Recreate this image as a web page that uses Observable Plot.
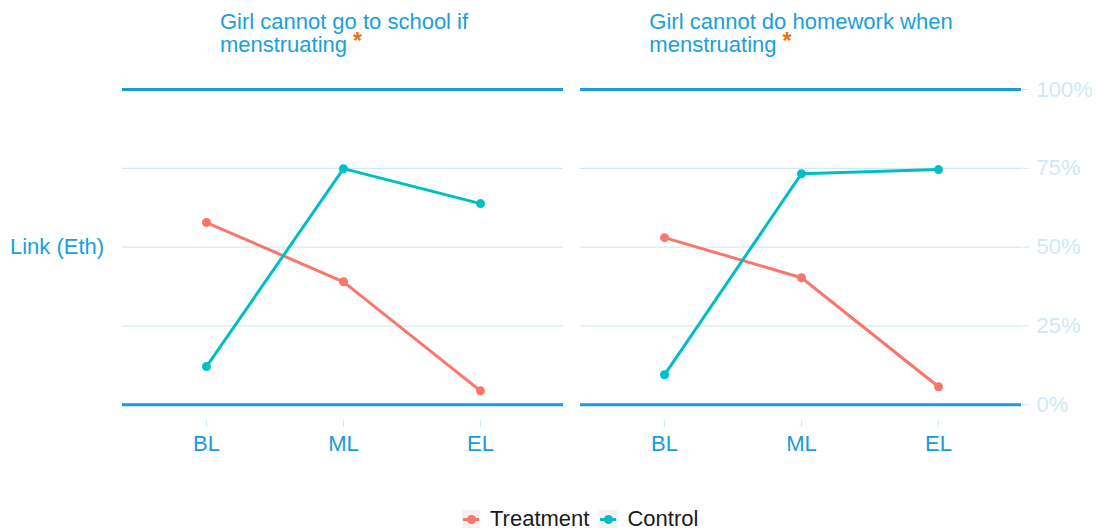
<!DOCTYPE html>
<html>
<head>
<meta charset="utf-8">
<script src="https://cdn.jsdelivr.net/npm/d3@7"></script>
<script src="https://cdn.jsdelivr.net/npm/@observablehq/plot@0.6"></script>
<style>
  html, body { margin: 0; padding: 0; background: #fff; }
  body { font-family: "Liberation Sans", Arial, sans-serif; }
  #wrap { position: relative; width: 1098px; height: 530px; }
  .ftitle { position: absolute; top: 10px; width: 500px; text-align: center; }
  .ftitle span.inner { display: inline-block; text-align: left; font-size: 22px; line-height: 23px; color: #1a9fdb; }
  .ast { display: inline-block; color: #e8720c; font-weight: bold; font-size: 23px; line-height: 12px; height: 12px; vertical-align: 3px; margin-left: 6px; }
  #ylab { position: absolute; left: 10px; top: 234px; font-size: 22px; color: #1a9fdb; }
  #legend { position: absolute; top: 506px; left: 462px; display: flex; align-items: center; font-size: 22px; color: #1a1a1a; }
  .sw { width: 18px; height: 18px; background: #f2f2f2; position: relative; margin-right: 10px; }
  .sw .ln { position: absolute; left: 1px; right: 1px; top: 8px; height: 3px; }
  .sw .dt { position: absolute; left: 4.5px; top: 4.5px; width: 9px; height: 9px; border-radius: 50%; }
  .item { display: flex; align-items: center; margin-right: 10px; }
</style>
</head>
<body>
<div id="wrap">
  <div id="chart"></div>
  <div class="ftitle" style="left:94px"><span class="inner">Girl cannot go to school if<br>menstruating<span class="ast">*</span></span></div>
  <div class="ftitle" style="left:551px"><span class="inner">Girl cannot do homework when<br>menstruating<span class="ast">*</span></span></div>
  <div id="ylab">Link (Eth)</div>
  <div id="legend"></div>
</div>
<script>
const phases = ["BL", "ML", "EL"];
const groups = ["Treatment", "Control"];
const groupColors = ["#F8766D", "#00BFC4"];
const indicators = ["Girl cannot go to school if menstruating", "Girl cannot do homework when menstruating"];
const treatmentSchool = [57.8, 39.0, 4.4];
const controlSchool = [12.1, 74.9, 63.8];
const treatmentHomework = [53.0, 40.3, 5.7];
const controlHomework = [9.5, 73.3, 74.6];
const yTicks = [0, 25, 50, 75, 100];
const gridValues = [25, 50, 75];
const boundValues = [0, 100];

const seriesTable = [
  [indicators[0], groups[0], treatmentSchool],
  [indicators[0], groups[1], controlSchool],
  [indicators[1], groups[0], treatmentHomework],
  [indicators[1], groups[1], controlHomework]
];
const rows = [];
for (const [ind, grp, vals] of seriesTable) {
  vals.forEach((v, i) => rows.push({indicator: ind, group: grp, phase: phases[i], value: v}));
}

const blue = "#1b9bd7";
const light = "#cfe9f6";
const chart = Plot.plot({
  width: 1098,
  height: 470,
  marginTop: 73.25,
  marginBottom: 50,
  marginLeft: 122,
  marginRight: 77,
  style: {fontFamily: "'Liberation Sans', Arial, sans-serif", background: "white"},
  fx: {domain: indicators, axis: null, paddingInner: 17 / 458, paddingOuter: 0, round: false},
  x: {domain: phases, padding: 0.6, label: null, axis: null},
  y: {domain: [-5, 105], label: null, axis: null},
  color: {domain: groups, range: groupColors},
  marks: [
    Plot.ruleY(gridValues, {stroke: "#c6e6f3", strokeWidth: 1}),
    Plot.ruleY(boundValues, {stroke: blue, strokeWidth: 3}),
    Plot.axisX({tickSize: 7, tickPadding: 8, fontSize: 22, stroke: light, fill: blue, label: null}),
    Plot.axisY({anchor: "right", ticks: yTicks, tickFormat: d => d + "%", tickSize: 7, tickPadding: 8, fontSize: 22, stroke: light, fill: light, label: null}),
    Plot.line(rows, {fx: "indicator", x: "phase", y: "value", z: "group", stroke: "group", strokeWidth: 3}),
    Plot.dot(rows, {fx: "indicator", x: "phase", y: "value", fill: "group", r: 4.5})
  ]
});
document.getElementById("chart").appendChild(chart);

const legend = document.getElementById("legend");
groups.forEach((g, i) => {
  const item = document.createElement("div");
  item.className = "item";
  item.innerHTML = `<div class="sw"><div class="ln" style="background:${groupColors[i]}"></div><div class="dt" style="background:${groupColors[i]}"></div></div><span>${g}</span>`;
  legend.appendChild(item);
});
</script>
</body>
</html>
